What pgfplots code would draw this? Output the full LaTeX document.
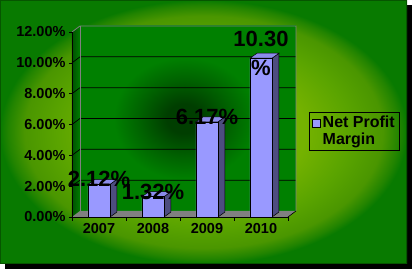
\documentclass[border=0pt]{standalone}
\usepackage{pgfplots}
\pgfplotsset{compat=1.18}
\usepackage{fontspec}
\setmainfont{Liberation Sans}

\definecolor{bglight}{RGB}{126,186,0}
\definecolor{bglight2}{RGB}{116,178,0}
\definecolor{bgmid1}{RGB}{90,164,0}
\definecolor{bgmid}{RGB}{74,150,0}
\definecolor{bgdark}{RGB}{34,132,0}
\definecolor{bgedge}{RGB}{8,122,0}
\definecolor{walldark}{RGB}{0,62,0}
\definecolor{wallmid}{RGB}{0,98,0}
\definecolor{wallout}{RGB}{0,128,0}
\definecolor{barfront}{RGB}{153,153,255}
\definecolor{barside}{RGB}{77,77,128}
\definecolor{bartop}{RGB}{140,140,235}
\definecolor{sidewallL}{RGB}{0,80,0}
\definecolor{sidewallR}{RGB}{0,125,0}

\pgfdeclareradialshading{panel}{\pgfpoint{0bp}{0bp}}{color(0bp)=(bglight); color(12.5bp)=(bglight2); color(18bp)=(bgmid1); color(22bp)=(bgmid); color(24bp)=(bgdark); color(25bp)=(bgedge); color(50bp)=(bgedge)}
\pgfdeclareradialshading{wall}{\pgfpoint{-1bp}{0bp}}{color(0bp)=(walldark); color(4bp)=(walldark); color(10.5bp)=(wallmid); color(16.5bp)=(wallout); color(50bp)=(wallout)}

\begin{document}
\begin{tikzpicture}[x=1pt,y=1pt]
\useasboundingbox (0,0) rectangle (413,272);
\fill[white] (0,0) rectangle (413,272);
\fill[black] (5,3) rectangle (412,267);
\shade[shading=panel] (0,8) rectangle (407,272);
\draw[bgedge!70!black, line width=0.8pt] (0.4,8.4) rectangle (406.6,271.6);
\begin{axis}[
  at={(72pt,55pt)}, anchor=south west,
  scale only axis, width=216pt, height=185pt,
  xmin=0, xmax=4, ymin=0, ymax=12,
  clip=false,
  axis on top,
  axis lines*=left,
  axis line style={-, black, line width=0.6pt},
  xtick={0.5,1.5,2.5,3.5},
  xticklabels={2007,2008,2009,2010},
  minor xtick={0,1,2,3,4},
  major x tick style={draw=none},
  minor x tick style={black, line width=0.6pt},
  minor tick length=4pt,
  ytick={0,2,4,6,8,10,12},
  yticklabels={0.00\%,2.00\%,4.00\%,6.00\%,8.00\%,10.00\%,12.00\%},
  major y tick style={black, line width=0.6pt},
  major tick length=3pt,
  tick align=outside,
  tick label style={font=\bfseries\fontsize{14.5}{14.5}\selectfont, text=black},
  legend style={at={(1.097,0.568)}, anchor=north west, draw=black, fill=none,
    line width=0.6pt, font=\bfseries\fontsize{16}{17}\selectfont,
    cells={align=left}, inner xsep=3pt, inner ysep=2pt},
]
% back wall, side wall, floor
\shade[shading=wall] ([shift={(8pt,6pt)}]axis cs:0,0) rectangle ([shift={(8pt,6pt)}]axis cs:4,12);
\shade[left color=sidewallL, right color=sidewallR] (axis cs:0,0) -- ([shift={(8pt,6pt)}]axis cs:0,0) -- ([shift={(8pt,6pt)}]axis cs:0,12) -- (axis cs:0,12) -- cycle;
\fill[gray] (axis cs:0,0) -- (axis cs:4,0) -- ([shift={(8pt,6pt)}]axis cs:4,0) -- ([shift={(8pt,6pt)}]axis cs:0,0) -- cycle;
% gridlines
\pgfplotsinvokeforeach{2,4,6,8,10}{
  \draw[black, line width=0.7pt] (axis cs:0,#1) -- ([shift={(8pt,6pt)}]axis cs:0,#1) -- ([shift={(8pt,6pt)}]axis cs:4,#1);
}
\draw[gray, line width=0.8pt] (axis cs:0,12) -- ([shift={(8pt,6pt)}]axis cs:0,12) -- ([shift={(8pt,6pt)}]axis cs:4,12) -- ([shift={(8pt,6pt)}]axis cs:4,0);
\draw[gray, line width=0.8pt] ([shift={(8pt,6pt)}]axis cs:0,0) -- ([shift={(8pt,6pt)}]axis cs:0,12);
\draw[black, line width=0.6pt] (axis cs:4,0) -- ([shift={(8pt,6pt)}]axis cs:4,0);

% bar side faces
\addplot[fill=barside, draw=black, line width=0.5pt, mark=none, forget plot] coordinates {(0.7037,0) (0.8333,0.3243) (0.8333,2.4443) (0.7037,2.12)} -- cycle;
\addplot[fill=barside, draw=black, line width=0.5pt, mark=none, forget plot] coordinates {(1.7037,0) (1.8333,0.3243) (1.8333,1.6443) (1.7037,1.32)} -- cycle;
\addplot[fill=barside, draw=black, line width=0.5pt, mark=none, forget plot] coordinates {(2.7037,0) (2.8333,0.3243) (2.8333,6.4943) (2.7037,6.17)} -- cycle;
\addplot[fill=barside, draw=black, line width=0.5pt, mark=none, forget plot] coordinates {(3.7037,0) (3.8333,0.3243) (3.8333,10.6243) (3.7037,10.30)} -- cycle;
% bar top faces
\addplot[fill=bartop, draw=black, line width=0.5pt, mark=none, forget plot] coordinates {(0.2963,2.12) (0.7037,2.12) (0.8333,2.4443) (0.4259,2.4443)} -- cycle;
\addplot[fill=bartop, draw=black, line width=0.5pt, mark=none, forget plot] coordinates {(1.2963,1.32) (1.7037,1.32) (1.8333,1.6443) (1.4259,1.6443)} -- cycle;
\addplot[fill=bartop, draw=black, line width=0.5pt, mark=none, forget plot] coordinates {(2.2963,6.17) (2.7037,6.17) (2.8333,6.4943) (2.4259,6.4943)} -- cycle;
\addplot[fill=bartop, draw=black, line width=0.5pt, mark=none, forget plot] coordinates {(3.2963,10.30) (3.7037,10.30) (3.8333,10.6243) (3.4259,10.6243)} -- cycle;

% bar front faces with labels
\addplot[ybar, bar width=22pt, fill=barfront, draw=black, line width=0.5pt,
  point meta=explicit symbolic,
  nodes near coords,
  nodes near coords style={font=\bfseries\fontsize{22}{29.5}\selectfont, text=black, anchor=center, yshift=5pt, align=center},
  legend image code/.code={\draw[fill=barfront, draw=black, line width=0.5pt] (0pt,4.5pt) rectangle (8pt,12.5pt);}]
  coordinates {(0.5,2.12) [2.12\%] (1.5,1.32) [1.32\%] (2.5,6.17) [6.17\%] (3.5,10.30) [10.30\\\%]};
\addlegendentry{Net Profit\\Margin}
\end{axis}
\end{tikzpicture}
\end{document}
